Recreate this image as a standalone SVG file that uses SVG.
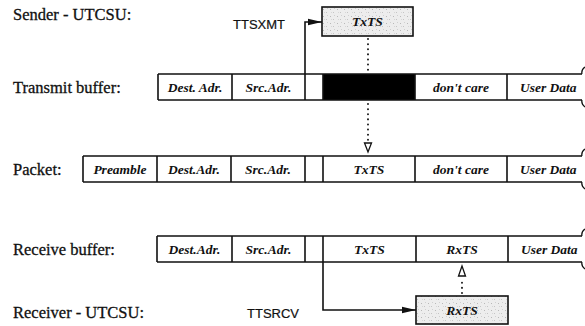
<svg xmlns="http://www.w3.org/2000/svg" width="585" height="326" viewBox="0 0 585 326">
<style>
.lbl{font-family:"Liberation Serif","Times New Roman",serif;font-size:16.5px;fill:#111;stroke:#111;stroke-width:0.3}
.sig{font-family:"Liberation Sans",Arial,sans-serif;font-size:13px;fill:#111;stroke:#111;stroke-width:0.2}
.cell{font-family:"Liberation Serif","Times New Roman",serif;font-style:italic;font-weight:bold;font-size:13.5px;fill:#111;text-anchor:middle}
.ud{font-family:"Liberation Serif","Times New Roman",serif;font-style:italic;font-weight:bold;font-size:13.5px;fill:#111}
.ln{stroke:#111;stroke-width:1.6;fill:none}
.brk{stroke:#111;stroke-width:1.3;fill:none}
.dot{stroke:#111;stroke-width:1.9;stroke-linecap:round;stroke-dasharray:0.1 5;fill:none}
.shade{fill:url(#speckle);stroke:#111;stroke-width:1.6}
</style>
<defs>
<pattern id="speckle" width="7" height="7" patternUnits="userSpaceOnUse">
<rect width="7" height="7" fill="#ededed"/>
<rect x="1" y="2" width="1" height="1" fill="#b8b8b8"/>
<rect x="4" y="5" width="1" height="1" fill="#c4c4c4"/>
<rect x="5" y="1" width="1" height="1" fill="#d0d0d0"/>
<rect x="2" y="5" width="1" height="1" fill="#d6d6d6"/>
</pattern>
<marker id="fill-arrow" viewBox="0 0 14 8" refX="14" refY="4" markerWidth="14" markerHeight="8" markerUnits="userSpaceOnUse" orient="auto">
<path d="M0,0.8 L14,4 L0,7.2 Z" fill="#111"/>
</marker>
</defs>
<rect width="585" height="326" fill="#fff"/>

<g id="label-sender"><text class="lbl" x="13" y="20">Sender - UTCSU:</text></g>
<g id="label-transmit"><text class="lbl" x="13" y="93">Transmit buffer:</text></g>
<g id="label-packet"><text class="lbl" x="13" y="175">Packet:</text></g>
<g id="label-receive"><text class="lbl" x="13" y="255">Receive buffer:</text></g>
<g id="label-receiver"><text class="lbl" x="13" y="318">Receiver - UTCSU:</text></g>

<g id="sender-txts">
<rect class="shade" x="322" y="7" width="91" height="29"/>
<text class="cell" x="367.5" y="26">TxTS</text>
</g>

<g id="transmit-buffer">
<rect x="323" y="74" width="92" height="26" fill="#000"/>
<path class="ln" d="M158,74 H582 M158,100 H582 M158,74 V100 M232,74 V100 M305,74 V100 M323,74 V100 M415,74 V100 M507,74 V100"/>
<path class="brk" d="M585,67 Q581,70 582,74 M582,100 Q581,104 585,107"/>
<text class="cell" x="195" y="91.5">Dest. Adr.</text>
<text class="cell" x="268.5" y="91.5">Src.Adr.</text>
<text class="cell" x="461" y="91.5">don't care</text>
<text class="ud" x="520" y="91.5">User Data</text>
</g>

<g id="packet">
<path class="ln" d="M83,156 H582 M83,182 H582 M83,156 V182 M157,156 V182 M231,156 V182 M305,156 V182 M323,156 V182 M415,156 V182 M507,156 V182"/>
<path class="brk" d="M585,149 Q581,152 582,156 M582,182 Q581,186 585,189"/>
<text class="cell" x="120" y="173.5">Preamble</text>
<text class="cell" x="194" y="173.5">Dest.Adr.</text>
<text class="cell" x="268" y="173.5">Src.Adr.</text>
<text class="cell" x="369" y="173.5">TxTS</text>
<text class="cell" x="461" y="173.5">don't care</text>
<text class="ud" x="520" y="173.5">User Data</text>
</g>

<g id="receive-buffer">
<path class="ln" d="M157,236 H582 M157,262 H582 M157,236 V262 M232,236 V262 M305,236 V262 M323,236 V262 M416,236 V262 M508,236 V262"/>
<path class="brk" d="M585,229 Q581,232 582,236 M582,262 Q581,266 585,269"/>
<text class="cell" x="194.5" y="253.5">Dest.Adr.</text>
<text class="cell" x="268.5" y="253.5">Src.Adr.</text>
<text class="cell" x="369.5" y="253.5">TxTS</text>
<text class="cell" x="462" y="253.5">RxTS</text>
<text class="ud" x="521" y="253.5">User Data</text>
</g>

<g id="receiver-rxts">
<rect class="shade" x="416" y="296" width="92" height="28"/>
<text class="cell" x="462" y="315">RxTS</text>
</g>

<g id="connectors">
<text class="sig" x="233" y="29">TTSXMT</text>
<path class="ln" d="M305,74 V22 H322" marker-end="url(#fill-arrow)"/>
<path class="dot" d="M368,39 V72"/>
<path class="dot" d="M368,104 V140"/>
<path d="M364.5,143 L371.5,143 L368,152 Z" fill="#fff" stroke="#111" stroke-width="1.3"/>
<text class="sig" x="247" y="318">TTSRCV</text>
<path class="ln" d="M323,262 V310 H416" marker-end="url(#fill-arrow)"/>
<path class="dot" d="M462,293 V282"/>
<path d="M458.5,276 L465.5,276 L462,266 Z" fill="#fff" stroke="#111" stroke-width="1.3"/>
</g>
</svg>
